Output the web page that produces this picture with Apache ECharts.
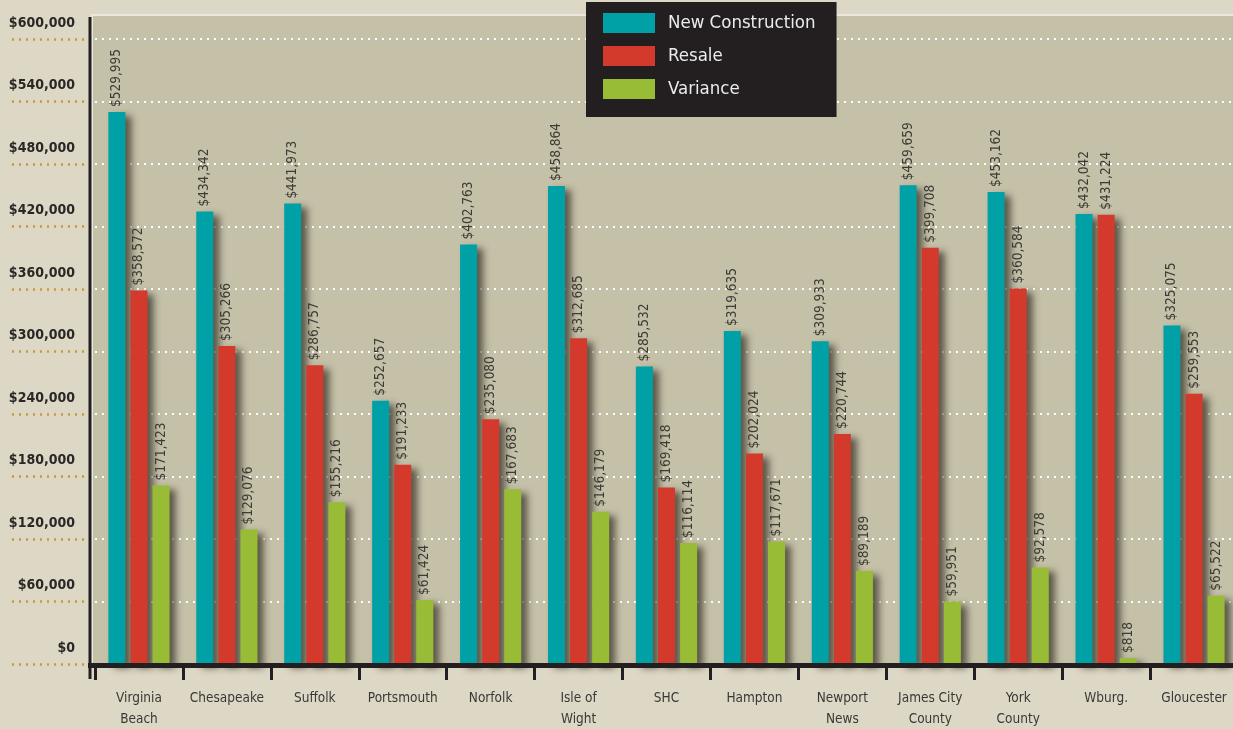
<!DOCTYPE html>
<html>
<head>
<meta charset="utf-8">
<script src="https://cdn.jsdelivr.net/npm/echarts@6/dist/echarts.min.js"></script>
<style>
html,body{margin:0;padding:0;background:#ddd7c5;}
#chart{width:1233px;height:729px;}
</style>
</head>
<body>
<div id="chart"></div>
<script>
const categories = ['Virginia\nBeach','Chesapeake','Suffolk','Portsmouth','Norfolk','Isle of\nWight','SHC','Hampton','Newport\nNews','James City\nCounty','York\nCounty','Wburg.','Gloucester'];
const seriesNames = ['New Construction','Resale','Variance'];
const newConstruction = [529995,434342,441973,252657,402763,458864,285532,319635,309933,459659,453162,432042,325075];
const resale = [358572,305266,286757,191233,235080,312685,169418,202024,220744,399708,360584,431224,259553];
const variance = [171423,129076,155216,61424,167683,146179,116114,117671,89189,59951,92578,818,65522];
const yMin = 0, yMax = 600000, yStep = 60000;

const FONT = '"DejaVu Sans Condensed","Liberation Sans Narrow","Roboto Condensed",sans-serif';
const colors = ['#00a0a7','#d33a2c','#98bc36'];
const fmt = v => '$' + Number(v).toLocaleString('en-US');

const chart = echarts.init(document.getElementById('chart'), null, {renderer:'canvas'});

function mkSeries(name, data, color){
  return {
    name, type:'bar', data, barWidth:17, barGap:'30%', barMinHeight:6,
    itemStyle:{color, shadowColor:'rgba(45,42,30,0.7)', shadowBlur:7, shadowOffsetX:6, shadowOffsetY:4},
    label:{show:true, position:'top', rotate:90, align:'left', verticalAlign:'middle', distance:5,
      formatter:p=>fmt(p.value), fontFamily:FONT, fontSize:13.5, color:'#3d3b36'},
    emphasis:{disabled:true}
  };
}

chart.setOption({
  backgroundColor:'#ddd7c5',
  animation:false,
  textStyle:{fontFamily:FONT},
  graphic:[
    {type:'rect', z:-10, shape:{x:92,y:15,width:1145,height:650}, style:{fill:'#c5c0a8', stroke:'#ebe7dc', lineWidth:2}},
    {type:'line', z:50, shape:{x1:90,y1:17,x2:90,y2:679}, style:{stroke:'#231f20', lineWidth:3}},
    {type:'line', z:50, shape:{x1:88,y1:665.5,x2:1233,y2:665.5}, style:{stroke:'#231f20', lineWidth:5}}
  ],
  legend:{
    data:seriesNames, orient:'vertical', left:586, top:2,
    backgroundColor:'#231f20', padding:[11,21,18,17],
    itemWidth:52, itemHeight:20, itemGap:13, icon:'rect',
    selectedMode:false,
    textStyle:{color:'#ececec', fontSize:18.5, lineHeight:20, fontFamily:FONT, padding:[0,0,0,8]}
  },
  grid:{left:95, right:-5, top:39, bottom:65, outerBoundsMode:'none', containLabel:false},
  xAxis:{
    type:'category', data:categories,
    axisLine:{show:false},
    axisTick:{show:true, length:16, lineStyle:{color:'#231f20', width:3}},
    axisLabel:{fontFamily:FONT, fontSize:13.5, color:'#3a3835', lineHeight:21, margin:24, interval:0}
  },
  yAxis:{
    type:'value', min:yMin, max:yMax, interval:yStep, offset:4,
    axisLine:{show:false},
    axisTick:{show:true, length:83, lineStyle:{color:'#c99a3a', width:2.5, type:[2,5]}},
    axisLabel:{formatter:fmt, fontFamily:FONT, fontSize:14, fontWeight:'bold', color:'#2a2826',
      margin:16, verticalAlign:'bottom', padding:[0,0,9,0]},
    splitLine:{show:true, lineStyle:{color:'#ffffff', width:2, type:[2,5]}}
  },
  series:[
    mkSeries(seriesNames[0], newConstruction, colors[0]),
    mkSeries(seriesNames[1], resale, colors[1]),
    mkSeries(seriesNames[2], variance, colors[2])
  ]
});
</script>
</body>
</html>
